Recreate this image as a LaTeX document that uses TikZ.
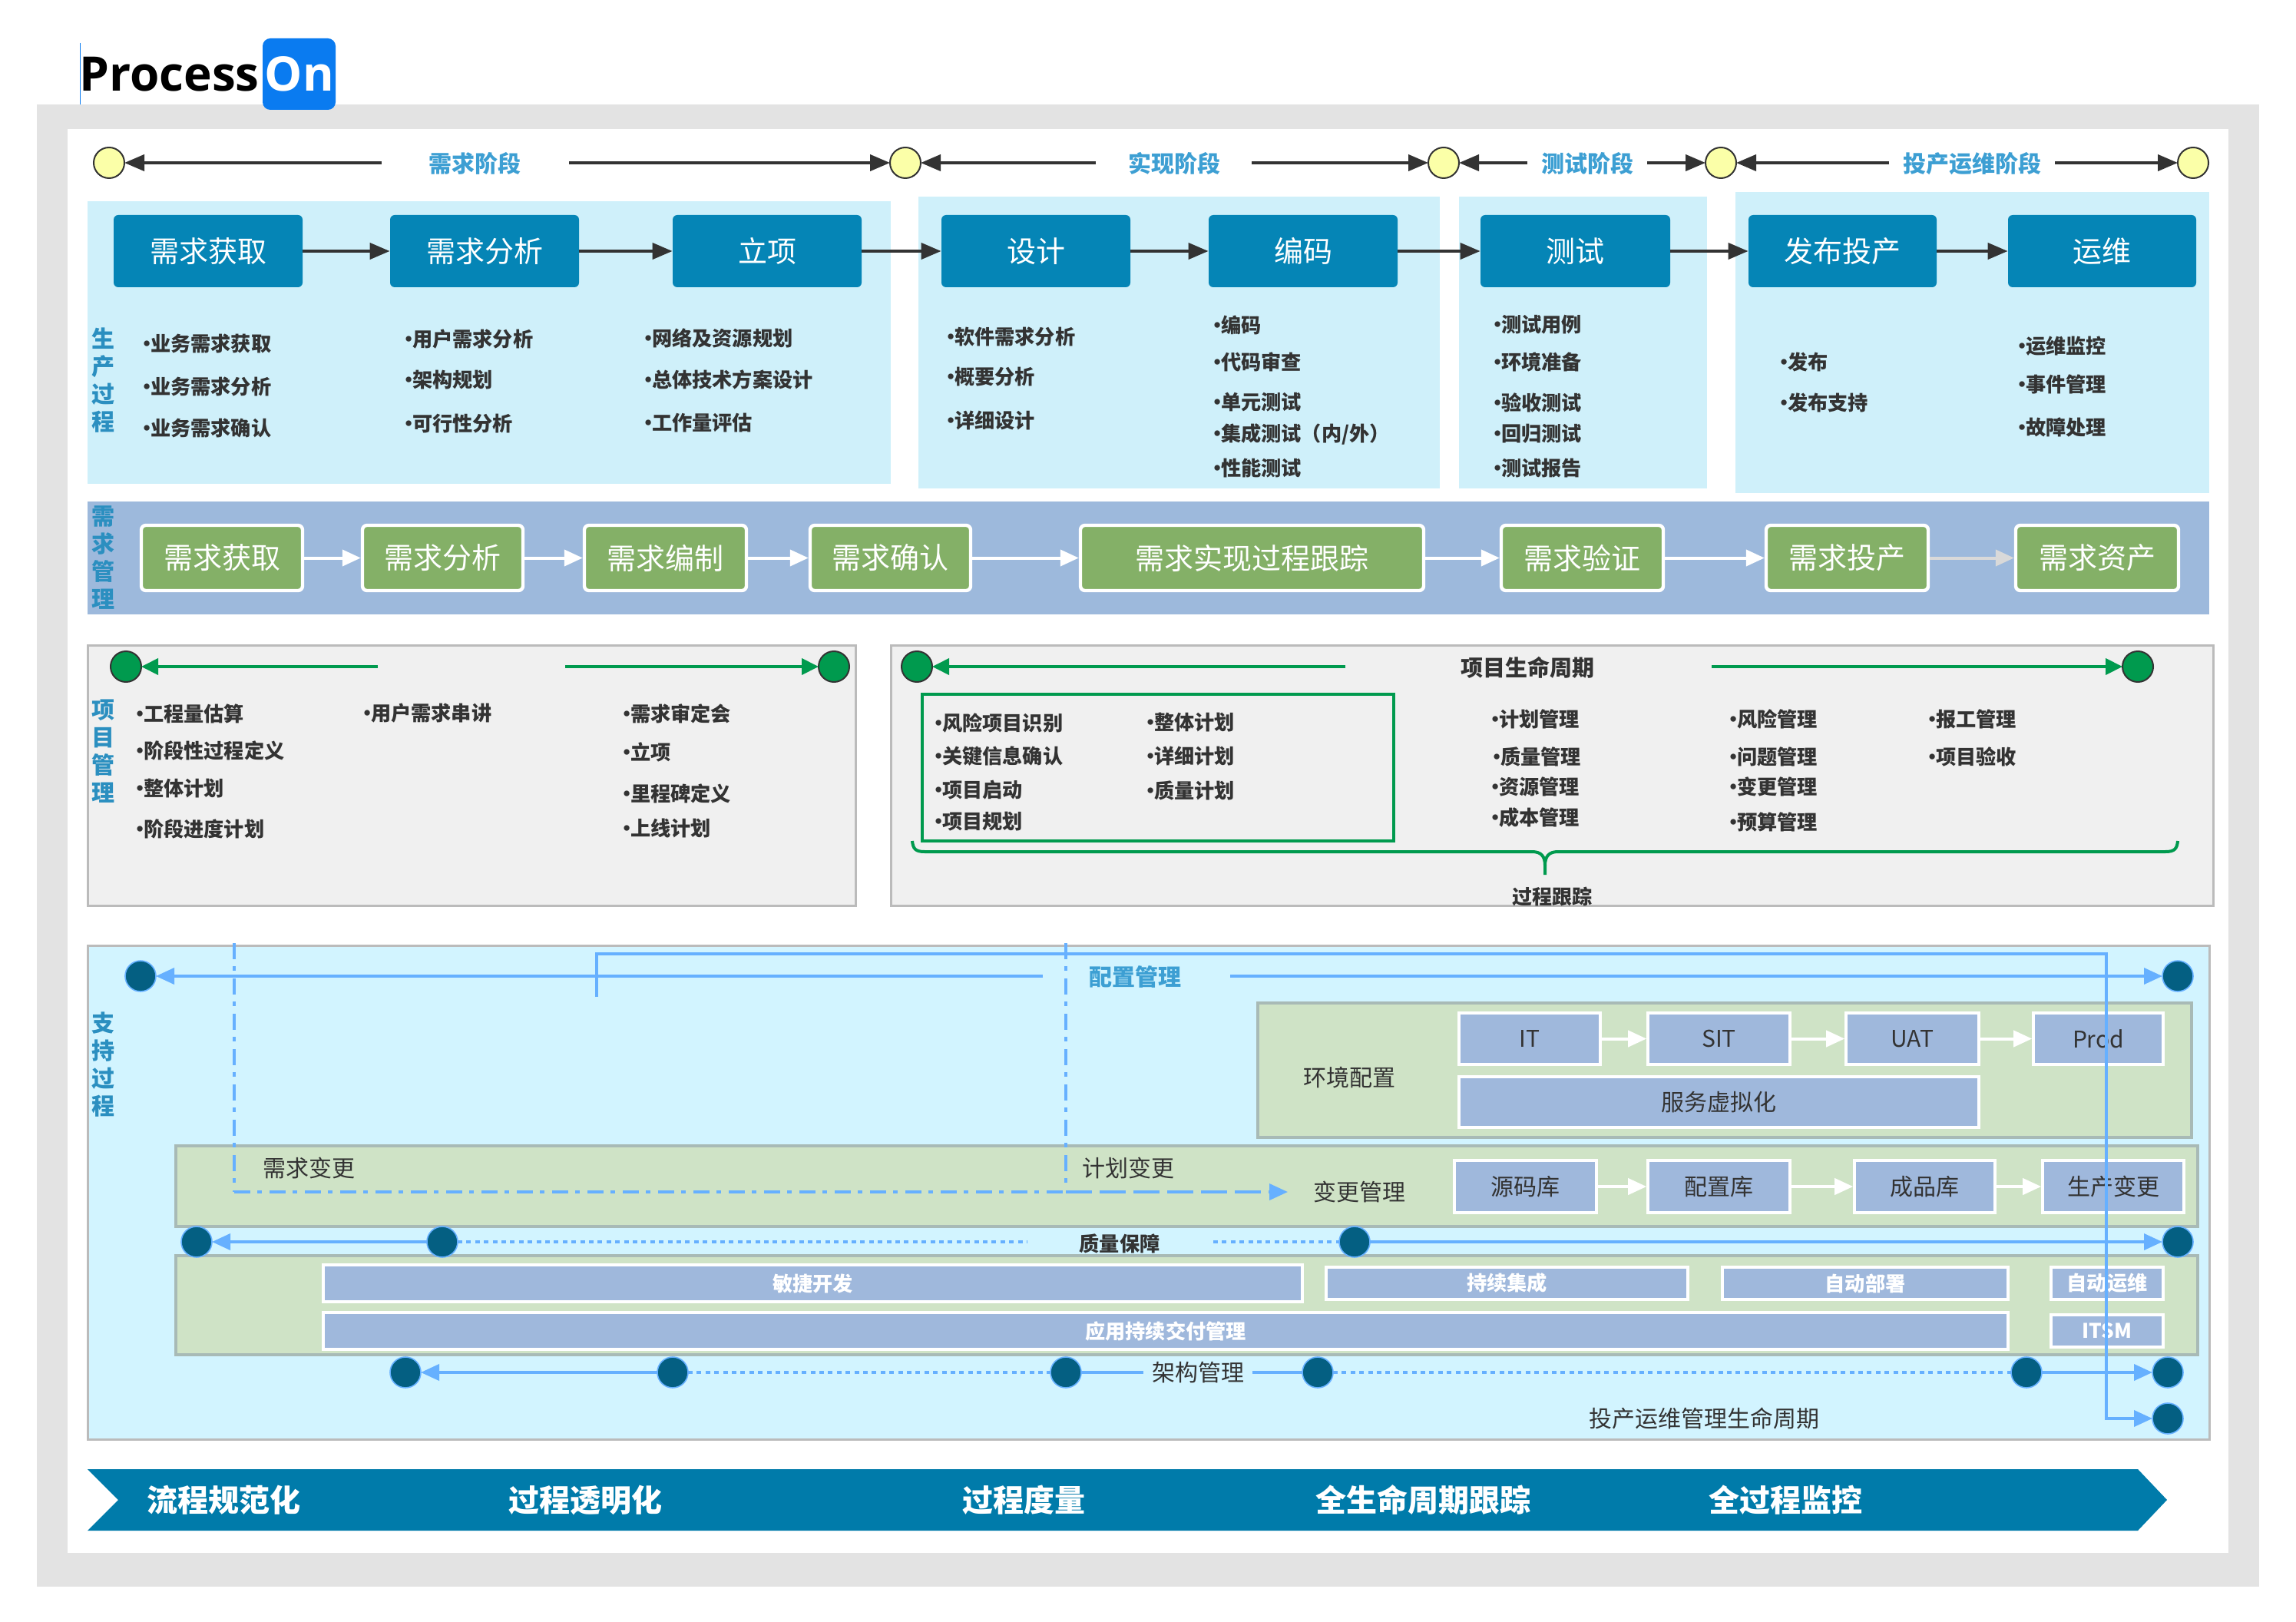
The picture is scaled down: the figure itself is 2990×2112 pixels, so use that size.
\documentclass[tikz,border=0pt]{standalone}
\usepackage{fontspec}
\usetikzlibrary{arrows.meta,shapes.geometric}
\setmainfont{Noto Sans CJK SC}
\newfontfamily\logofont{Open Sans}
\definecolor{gbg}{HTML}{E3E3E3}
\definecolor{pan}{HTML}{CFF0FA}
\definecolor{bbox}{HTML}{0585B6}
\definecolor{band}{HTML}{9DB9DC}
\definecolor{grn}{HTML}{84B067}
\definecolor{rib}{HTML}{007BAA}
\definecolor{head}{HTML}{3D9FD3}
\definecolor{side}{HTML}{2B8FC0}
\definecolor{sup}{HTML}{D2F4FF}
\definecolor{sage}{HTML}{CFE3C6}
\definecolor{sageb}{HTML}{A8BAB6}
\definecolor{ibox}{HTML}{9FB8DC}
\definecolor{teal}{HTML}{045F82}
\definecolor{lbl}{HTML}{66B0FF}
\definecolor{gln}{HTML}{009A4E}
\definecolor{yel}{HTML}{FBFFA8}
\definecolor{dk}{HTML}{333333}
\definecolor{pgray}{HTML}{F0F0F0}
\definecolor{pbor}{HTML}{BBBBBB}
\definecolor{logob}{HTML}{0A7BF0}
\newcounter{lblc}
\newcommand\blt[3]{\stepcounter{lblc}\node[bul] (b\thelblc) at (#1,#2-1) {\kern-4.3pt•\kern-4.5pt#3};}
% name, x0, y0, x1, y1, style, text
\newcommand\rbox[7]{\node[#6,minimum width={(#4-#2)*0.5pt},minimum height={(#5-#3)*0.5pt}] (#1) at ({(#2+#4)/2},{(#3+#5)/2}) {#7};}
\tikzset{
 bul/.style={anchor=west,inner sep=0,font=\fontsize{13.1}{16}\selectfont\bfseries,text=dk},
 sidetxt/.style={align=center,inner sep=0,font=\fontsize{15}{18}\selectfont\bfseries,text=side},
 headtxt/.style={inner sep=0,font=\fontsize{15}{18}\selectfont\bfseries,text=head},
 plain/.style={inner sep=0,font=\fontsize{15}{18}\selectfont,text=dk},
 bluebox/.style={rounded corners=3pt,fill=bbox,inner sep=0,text=white,font=\fontsize{19}{22}\selectfont},
 greenbox/.style={rounded corners=3pt,fill=grn,draw=white,line width=2.2pt,inner sep=0,text=white,font=\fontsize{19}{22}\selectfont},
 inbox/.style={fill=ibox,draw=white,line width=1.8pt,inner sep=0,text=dk,font=\fontsize{15}{18}\selectfont},
 barbox/.style={fill=ibox,draw=white,line width=1.8pt,inner sep=0,text=white,font=\fontsize{13.1}{16}\selectfont\bfseries},
 sagebox/.style={fill=sage,draw=sageb,line width=2pt},
 yc/.style={circle,fill=yel,draw=dk,line width=1pt,minimum size=20pt,inner sep=0,outer sep=0},
 gc/.style={circle,fill=gln,draw=dk,line width=1pt,minimum size=20pt,inner sep=0,outer sep=0},
 tc/.style={circle,fill=teal,draw=lbl,line width=0.8pt,minimum size=20pt,inner sep=0,outer sep=0},
 darr/.style={draw=dk,line width=2pt,-{Triangle[length=13pt,width=10.5pt]}},
 warr/.style={draw=white,line width=2pt,-{Triangle[length=12pt,width=10.5pt]}},
 garr/.style={draw=gln,line width=2pt,-{Triangle[length=11pt,width=10.5pt]}},
 barr/.style={draw=lbl,line width=1.9pt,-{Triangle[length=12pt,width=10.5pt]}},
 bdot/.style={draw=lbl,line width=2pt,dash pattern=on 3pt off 2.7pt},
 bline/.style={draw=lbl,line width=2pt},
 bdd/.style={draw=lbl,line width=1.75pt,dash pattern=on 10.3pt off 4.8pt on 3pt off 4.9pt},
}
\begin{document}
\begin{tikzpicture}[x=0.5pt,y=-0.5pt]
\useasboundingbox (0,0) rectangle (2990,2112);
\fill[white] (0,0) rectangle (2990,2112);
% frame
\fill[gbg] (48,136) rectangle (2942,2066);
\fill[white] (88,168) rectangle (2902,2022);
% logo
\node[anchor=base west,inner sep=0,font=\fontsize{31}{36}\selectfont\logofont\bfseries,text=black] (logotxt) at (103,119) {Process};
\draw[draw=logob,line width=0.6pt] (104.5,56) -- (104.5,136);
\rbox{logobox}{342}{50}{437}{143}{fill=logob,rounded corners=5pt,inner sep=0}{}
\node[anchor=base,inner sep=0,font=\fontsize{31}{36}\selectfont\logofont\bfseries,text=white] (logoon) at (390,119) {On};
\begin{scope}[yshift=-0.5pt]
% stage header
\node[yc] (y1) at (142,211) {};
\node[yc] (y2) at (1179,211) {};
\node[yc] (y3) at (1880,211) {};
\node[yc] (y4) at (2241,211) {};
\node[yc] (y5) at (2856,211) {};
\node[headtxt] (h1) at (618,212) {需求阶段};
\node[headtxt] (h2) at (1529,212) {实现阶段};
\node[headtxt] (h3) at (2067,212) {测试阶段};
\node[headtxt] (h4) at (2568,212) {投产运维阶段};
\coordinate (t1a) at (497,211); \coordinate (t1b) at (741,211);
\coordinate (t2a) at (1427,211); \coordinate (t2b) at (1630,211);
\coordinate (t3a) at (1989,211); \coordinate (t3b) at (2145,211);
\coordinate (t4a) at (2460,211); \coordinate (t4b) at (2676,211);
\draw[darr] (t1a) -- (y1); \draw[darr] (t1b) -- (y2);
\draw[darr] (t2a) -- (y2); \draw[darr] (t2b) -- (y3);
\draw[darr] (t3a) -- (y3); \draw[darr] (t3b) -- (y4);
\draw[darr] (t4a) -- (y4); \draw[darr] (t4b) -- (y5);
% production panels
\fill[pan] (114,261) rectangle (1160,629);
\fill[pan] (1196,255) rectangle (1875,635);
\fill[pan] (1900,255) rectangle (2223,635);
\fill[pan] (2260,249) rectangle (2877,641);
\rbox{p1}{148}{279}{394}{373}{bluebox}{需求获取}
\rbox{p2}{508}{279}{754}{373}{bluebox}{需求分析}
\rbox{p3}{876}{279}{1122}{373}{bluebox}{立项}
\rbox{p4}{1226}{279}{1472}{373}{bluebox}{设计}
\rbox{p5}{1574}{279}{1820}{373}{bluebox}{编码}
\rbox{p6}{1928}{279}{2175}{373}{bluebox}{测试}
\rbox{p7}{2277}{279}{2522}{373}{bluebox}{发布投产}
\rbox{p8}{2615}{279}{2860}{373}{bluebox}{运维}
\foreach \a/\b in {p1/p2,p2/p3,p3/p4,p4/p5,p5/p6,p6/p7,p7/p8} \draw[darr] (\a) -- (\b);
\node[sidetxt] (s1) at (134,494) {生\\产\\过\\程};
\blt{187}{447}{业务需求获取}\blt{187}{503}{业务需求分析}\blt{187}{557}{业务需求确认}
\blt{528}{442}{用户需求分析}\blt{528}{495}{架构规划}\blt{528}{552}{可行性分析}
\blt{840}{440}{网络及资源规划}\blt{840}{494}{总体技术方案设计}\blt{840}{551}{工作量评估}
\blt{1234}{438}{软件需求分析}\blt{1234}{491}{概要分析}\blt{1234}{548}{详细设计}
\blt{1581}{423}{编码}\blt{1581}{471}{代码审查}\blt{1581}{524}{单元测试}\blt{1581}{565}{集成测试（内/外）}\blt{1581}{610}{性能测试}
\blt{1946}{423}{测试用例}\blt{1946}{471}{环境准备}\blt{1946}{524}{验收测试}\blt{1946}{565}{回归测试}\blt{1946}{610}{测试报告}
\blt{2319}{471}{发布}\blt{2319}{524}{发布支持}
\blt{2629}{451}{运维监控}\blt{2629}{500}{事件管理}\blt{2629}{557}{故障处理}
% requirement band
\fill[band] (114,652) rectangle (2877,799);
\node[sidetxt] (s2) at (134,725) {需\\求\\管\\理};
\rbox{r1}{184}{683}{394}{768}{greenbox}{需求获取}
\rbox{r2}{472}{683}{681}{768}{greenbox}{需求分析}
\rbox{r3}{761}{683}{972}{768}{greenbox}{需求编制}
\rbox{r4}{1055}{683}{1264}{768}{greenbox}{需求确认}
\rbox{r5}{1407}{683}{1854}{768}{greenbox}{需求实现过程跟踪}
\rbox{r6}{1955}{683}{2166}{768}{greenbox}{需求验证}
\rbox{r7}{2300}{683}{2511}{768}{greenbox}{需求投产}
\rbox{r8}{2625}{683}{2837}{768}{greenbox}{需求资产}
\foreach \a/\b in {r1/r2,r2/r3,r3/r4,r4/r5,r5/r6,r6/r7} \draw[warr] (\a) -- (\b);
\draw[warr,draw=gray!30] (r7) -- (r8);
% project panels
\fill[pgray,draw=pbor,line width=1.5pt] (114,839) rectangle (1114,1178);
\fill[pgray,draw=pbor,line width=1.5pt] (1160,839) rectangle (2882,1178);
\node[gc] (g1) at (164,867) {};
\node[gc] (g2) at (1086,867) {};
\node[gc] (g3) at (1194,867) {};
\node[gc] (g4) at (2784,867) {};
\coordinate (g1t) at (492,867); \coordinate (g2t) at (736,867);
\coordinate (g3t) at (1752,867); \coordinate (g4t) at (2229,867);
\draw[garr] (g1t) -- (g1); \draw[garr] (g2t) -- (g2);
\draw[garr] (g3t) -- (g3); \draw[garr] (g4t) -- (g4);
\node[inner sep=0,font=\fontsize{14.5}{18}\selectfont\bfseries,text=dk] (plc) at (1989,868) {项目生命周期};
\node[sidetxt] (s3) at (134,977) {项\\目\\管\\理};
\blt{178}{929}{工程量估算}\blt{178}{977}{阶段性过程定义}\blt{178}{1027}{整体计划}\blt{178}{1079}{阶段进度计划}
\blt{474}{929}{用户需求串讲}
\blt{812}{929}{需求审定会}\blt{812}{979}{立项}\blt{812}{1033}{里程碑定义}\blt{812}{1079}{上线计划}
\draw[draw=gln,line width=2pt] (1201,903) rectangle (1815,1094);
\blt{1218}{941}{风险项目识别}\blt{1218}{985}{关键信息确认}\blt{1218}{1029}{项目启动}\blt{1218}{1070}{项目规划}
\blt{1494}{941}{整体计划}\blt{1494}{985}{详细计划}\blt{1494}{1029}{质量计划}
\blt{1943}{936}{计划管理}\blt{1945}{985}{质量管理}\blt{1943}{1024}{资源管理}\blt{1943}{1065}{成本管理}
\blt{2253}{936}{风险管理}\blt{2253}{985}{问题管理}\blt{2253}{1024}{变更管理}\blt{2253}{1070}{预算管理}
\blt{2512}{936}{报工管理}\blt{2512}{985}{项目验收}
\draw[draw=gln,line width=2pt] (1188,1094) .. controls (1189,1104) and (1192,1108) .. (1204,1108) -- (1995,1108) .. controls (2007,1108) and (2012,1114) .. (2012,1126) -- (2012,1138);
\draw[draw=gln,line width=2pt] (2836,1094) .. controls (2835,1104) and (2832,1108) .. (2820,1108) -- (2029,1108) .. controls (2017,1108) and (2012,1114) .. (2012,1126);
\node[inner sep=0,font=\fontsize{13}{16}\selectfont\bfseries,text=dk] (gz) at (2021,1167) {过程跟踪};
% support
\fill[sup,draw=pbor,line width=1.5pt] (114,1230) rectangle (2877,1873);
\node[sidetxt] (s4) at (134,1385) {支\\持\\过\\程};
\fill[sagebox] (1638,1305) rectangle (2854,1480);
\node[plain] (envt) at (1757,1402) {环境配置};
\rbox{e1}{1900}{1318}{2084}{1385}{inbox}{IT}
\rbox{e2}{2146}{1318}{2331}{1385}{inbox}{SIT}
\rbox{e3}{2404}{1318}{2577}{1385}{inbox}{UAT}
\rbox{e4}{2648}{1318}{2817}{1385}{inbox}{Prod}
\rbox{e5}{1900}{1401}{2577}{1467}{inbox}{服务虚拟化}
\foreach \a/\b in {e1/e2,e2/e3,e3/e4} \draw[warr] (\a) -- (\b);
\fill[sagebox] (229,1491) rectangle (2862,1596);
\node[plain] (ch1) at (402,1520) {需求变更};
\node[plain] (ch2) at (1469,1520) {计划变更};
\node[plain] (ch3) at (1770,1551) {变更管理};
\rbox{c1}{1894}{1510}{2079}{1578}{inbox}{源码库}
\rbox{c2}{2146}{1510}{2331}{1578}{inbox}{配置库}
\rbox{c3}{2415}{1510}{2598}{1578}{inbox}{成品库}
\rbox{c4}{2660}{1510}{2844}{1578}{inbox}{生产变更}
\foreach \a/\b in {c1/c2,c2/c3,c3/c4} \draw[warr] (\a) -- (\b);
% delivery panel
\fill[sagebox] (229,1634) rectangle (2862,1763);
\rbox{d1}{421}{1646}{1696}{1694}{barbox}{敏捷开发}
\rbox{d2}{1727}{1649}{2198}{1691}{barbox}{持续集成}
\rbox{d3}{2243}{1649}{2615}{1691}{barbox}{自动部署}
\rbox{d4}{2671}{1649}{2817}{1691}{barbox}{自动运维}
\rbox{d5}{421}{1708}{2615}{1756}{barbox}{应用持续交付管理}
\rbox{d6}{2671}{1711}{2817}{1753}{barbox}{ITSM}
% change lines
\coordinate (v1top) at (305,1227); \coordinate (v1bot) at (305,1551);
\coordinate (v2top) at (1388,1227); \coordinate (v2bot) at (1388,1541); \coordinate (v2mid) at (1388,1551);
\coordinate (chend) at (1677,1551);
\draw[bdd] (v1top) -- (v1bot);
\draw[bdd] (v2top) -- (v2bot);
\draw[bdd] (v1bot) -- (v2mid);
\draw[draw=lbl,line width=1.9pt,dash pattern=on 17pt off 5pt,-{Triangle[length=12pt,width=10.5pt]}] (v2mid) -- (chend);
% top config line
\node[tc] (k1) at (183,1270) {};
\node[tc] (k2) at (2836,1270) {};
\node[headtxt] (k0) at (1478,1271) {配置管理};
\coordinate (k1t) at (1358,1270); \coordinate (k2t) at (1602,1270);
\draw[barr] (k1t) -- (k1); \draw[barr] (k2t) -- (k2);
% quality
\node[tc] (q1) at (256,1616) {};
\node[tc] (q2) at (576,1616) {};
\node[tc] (q3) at (1764,1616) {};
\node[tc] (q4) at (2836,1616) {};
\node[inner sep=0,font=\fontsize{13.1}{16}\selectfont\bfseries,text=dk] (q0) at (1458,1618) {质量保障};
\coordinate (q2t) at (1338,1616); \coordinate (q3t) at (1580,1616);
\draw[barr] (q2) -- (q1);
\draw[bdot] (q2) -- (q2t);
\draw[bdot] (q3t) -- (q3);
\draw[barr] (q3) -- (q4);
% architecture
\node[tc] (a1) at (528,1786) {};
\node[tc] (a2) at (876,1786) {};
\node[tc] (a3) at (1388,1786) {};
\node[tc] (a4) at (1716,1786) {};
\node[tc] (a5) at (2639,1786) {};
\node[tc] (a6) at (2823,1786) {};
\node[plain,inner sep=5.5pt] (a0) at (1560,1786) {架构管理};
\draw[barr] (a2) -- (a1);
\draw[bdot] (a2) -- (a3);
\draw[bline] (a3) -- (a0);
\draw[bline] (a0) -- (a4);
\draw[bdot] (a4) -- (a5);
\draw[barr] (a5) -- (a6);
\node[plain] (o0) at (2219,1846) {投产运维管理生命周期};
\node[tc] (o1) at (2823,1846) {};
\coordinate (cf0) at (777,1297); \coordinate (cf1) at (777,1241); \coordinate (cf2) at (2743,1241); \coordinate (cf3) at (2743,1846);
\draw[barr] (cf0) -- (cf1) -- (cf2) -- (cf3) -- (o1);
% ribbon
\fill[rib] (114,1912) -- (2784,1912) -- (2822,1952) -- (2784,1992) -- (114,1992) -- (154,1952) -- cycle;
\foreach \n/\x/\t in {f1/291/流程规范化,f2/762/过程透明化,f3/1333/过程度量,f4/1853/全生命周期跟踪,f5/2325/全过程监控}
  \node[inner sep=0,font=\fontsize{20}{24}\selectfont\bfseries,text=white] (\n) at (\x,1952) {\t};
\end{scope}
\end{tikzpicture}
\end{document}
